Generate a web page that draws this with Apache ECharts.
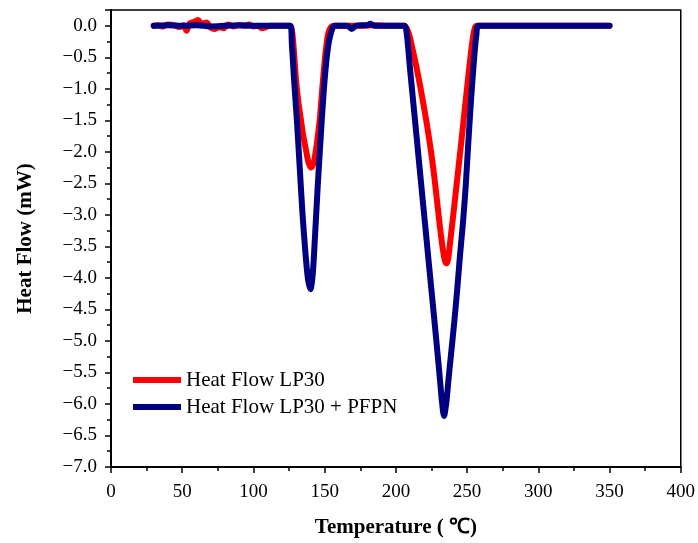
<!DOCTYPE html>
<html>
<head>
<meta charset="utf-8">
<script src="https://cdn.jsdelivr.net/npm/echarts@6/dist/echarts.min.js"></script>
<style>
html, body { margin: 0; padding: 0; background: #fff; }
#chart { width: 698px; height: 543px; }
</style>
</head>
<body>
<div id="chart"></div>
<script>
// Heat flow, LP30 (red)
var tempLP30 = [30, 33, 36, 40, 44, 48, 51, 53, 55, 58, 61, 64, 67, 70, 73, 76, 79, 82, 86, 90, 94, 97, 100, 103, 106, 109, 112, 116, 120, 124,
	126, 127.5, 129.9, 131.5, 133.4, 135, 136.9, 138.7, 140.6, 142.3, 143.9, 145.2, 146.5, 148.5, 150.5, 152.5, 154.5, 157,
	165, 175, 185, 195, 206,
	209, 211, 213, 215, 217, 219, 221, 223, 225, 227, 229, 231, 233, 234.5, 235.5, 236.7, 238, 240, 242, 244, 246, 248, 250, 252, 254, 255.5, 257,
	265, 280, 300, 320, 340, 350];
var flowLP30 = [0, 0.01, -0.01, 0.02, 0.01, -0.02, 0.01, -0.08, 0.03, 0.06, 0.09, 0.03, 0.05, -0.03, -0.05, -0.02, -0.04, 0.02, -0.01, 0.01, 0, 0.02, -0.01, 0, -0.04, -0.02, 0, 0, 0, 0,
	0, -0.15, -0.86, -1.2, -1.5, -1.75, -1.97, -2.17, -2.25, -2.17, -1.97, -1.75, -1.5, -0.95, -0.45, -0.12, -0.02, 0,
	0, 0, 0.01, 0, 0,
	-0.12, -0.3, -0.5, -0.72, -0.95, -1.2, -1.46, -1.74, -2.05, -2.4, -2.8, -3.2, -3.55, -3.73, -3.77, -3.7, -3.45, -3.06, -2.65, -2.24, -1.83, -1.4, -0.98, -0.57, -0.2, -0.03, 0,
	0, 0, 0, 0, 0, 0];

// Heat flow, LP30 + PFPN (navy)
var tempPFPN = [30, 40, 50, 60, 70, 80, 90, 100, 110, 120, 125.8,
	127, 128.5, 130.5, 132.5, 134.5, 136.5, 138.3, 140, 141.6, 143.2, 145, 147, 149, 151, 153, 155, 157,
	162, 166, 169, 172, 176, 180, 182, 185, 190, 200, 206,
	207.5, 210, 213, 216, 219, 222, 225, 228, 230.5, 232.3, 233.8, 235.3, 237, 239, 241, 243, 245, 247, 249, 251, 253, 255, 256.5, 258,
	270, 290, 310, 330, 350];
var flowPFPN = [0, 0.01, 0, 0.01, -0.01, 0, 0.01, 0, 0, 0, 0,
	-0.3, -0.85, -1.5, -2.25, -3.0, -3.6, -4.02, -4.18, -3.95, -3.35, -2.6, -1.85, -1.15, -0.6, -0.25, -0.07, 0,
	0, 0, -0.05, 0, 0.01, 0.01, 0.03, 0, 0, 0, 0,
	-0.1, -0.7, -1.4, -2.1, -2.8, -3.5, -4.2, -4.9, -5.5, -5.95, -6.19, -6.0, -5.6, -5.15, -4.7, -4.2, -3.65, -3.15, -2.55, -1.8, -1.1, -0.5, -0.15, 0,
	0, 0, 0, 0, 0];

var xTicks = { min: 0, max: 400, step: 50 };
var yTicks = { min: -7, max: 0.25, step: 0.5 };

function pairs(xs, ys) {
	return xs.map(function (x, i) { return [x, ys[i]]; });
}

var chart = echarts.init(document.getElementById('chart'));
var serif = 'Liberation Serif';

chart.setOption({
	animation: false,
	backgroundColor: '#fff',
	grid: {
		left: 111, right: 16, top: 10, bottom: 76,
		show: true, borderColor: '#000', borderWidth: 1.5
	},
	legend: {
		orient: 'vertical',
		left: 133, top: 369, padding: 0,
		itemWidth: 48, itemHeight: 6, itemGap: 5,
		icon: 'rect',
		textStyle: { fontFamily: serif, fontSize: 21, color: '#000', lineHeight: 22 },
		data: ['Heat Flow LP30', 'Heat Flow LP30 + PFPN']
	},
	xAxis: {
		type: 'value',
		min: xTicks.min, max: xTicks.max, interval: xTicks.step,
		name: 'Temperature ( ℃)',
		nameLocation: 'middle', nameGap: 50,
		nameTextStyle: { fontFamily: serif, fontSize: 21, fontWeight: 'bold', color: '#000' },
		axisLine: { onZero: false, lineStyle: { color: '#000', width: 2 } },
		axisTick: { length: 6, lineStyle: { color: '#000', width: 1.5 } },
		minorTick: { show: true, splitNumber: 2, length: 4, lineStyle: { color: '#000', width: 1.5 } },
		axisLabel: { fontFamily: serif, fontSize: 19, color: '#000', margin: 16 },
		splitLine: { show: false }
	},
	yAxis: {
		type: 'value',
		min: yTicks.min, max: yTicks.max, interval: yTicks.step,
		name: 'Heat Flow (mW)',
		nameLocation: 'middle', nameGap: 75,
		nameTextStyle: { fontFamily: serif, fontSize: 21, fontWeight: 'bold', color: '#000' },
		axisLine: { onZero: false, lineStyle: { color: '#000', width: 2 } },
		axisTick: { length: 6, lineStyle: { color: '#000', width: 1.5 } },
		minorTick: { show: true, splitNumber: 2, length: 4, lineStyle: { color: '#000', width: 1.5 } },
		axisLabel: {
			fontFamily: serif, fontSize: 19, color: '#000', margin: 14,
			formatter: function (v) {
				if (v > 0.01) return '';
				return v.toFixed(1).replace('-', '\u2212');
			}
		},
		splitLine: { show: false }
	},
	series: [{
		name: 'Heat Flow LP30',
		type: 'line',
		data: pairs(tempLP30, flowLP30),
		showSymbol: false,
		smooth: 0.3,
		color: '#ff0000',
		lineStyle: { color: '#ff0000', width: 6, cap: 'round', join: 'round' }
	}, {
		name: 'Heat Flow LP30 + PFPN',
		type: 'line',
		data: pairs(tempPFPN, flowPFPN),
		showSymbol: false,
		smooth: 0.3,
		color: '#000080',
		lineStyle: { color: '#000080', width: 6, cap: 'round', join: 'round' }
	}]
});
</script>
</body>
</html>
